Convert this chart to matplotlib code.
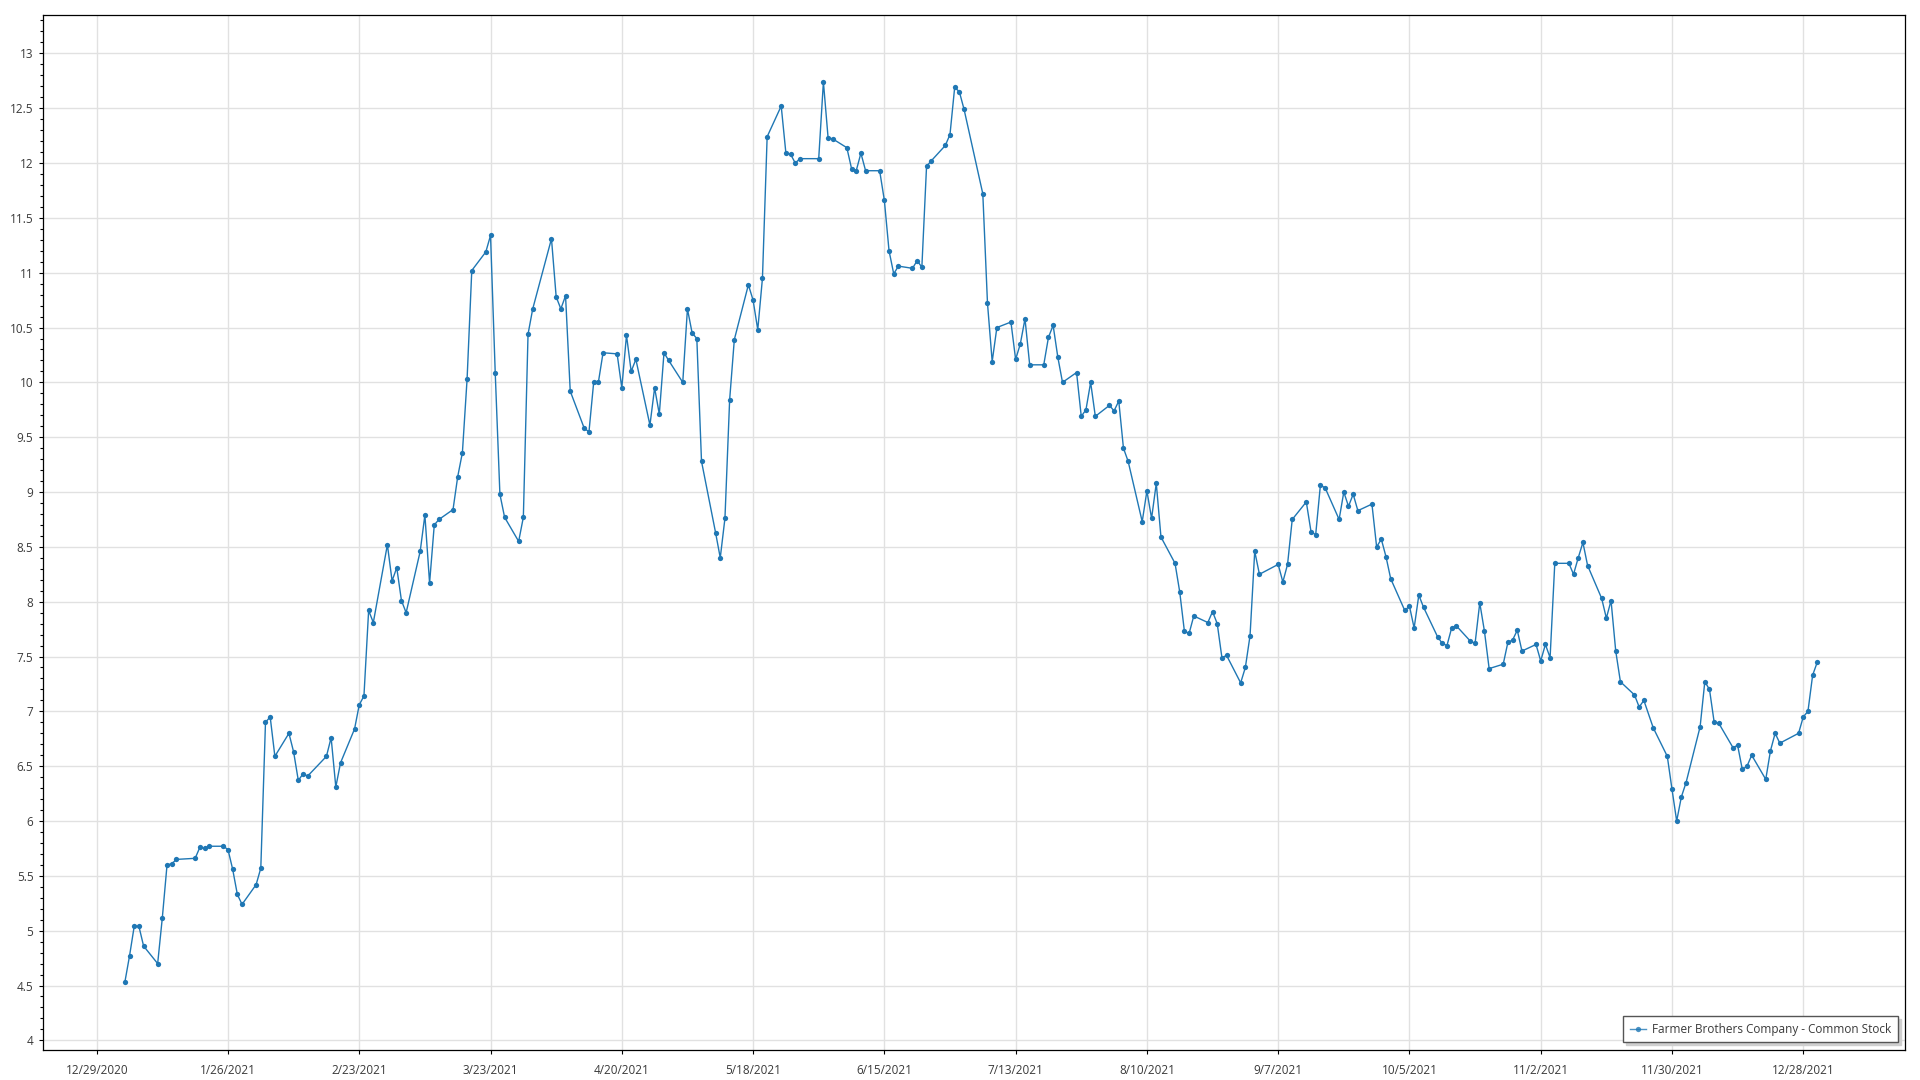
import matplotlib
matplotlib.use("Agg")
import matplotlib.pyplot as plt
import pandas as pd
from matplotlib.ticker import MultipleLocator, FixedLocator

plt.rcParams['font.family'] = ['Open Sans', 'DejaVu Sans']

# ---- data ----
series_name = "Farmer Brothers Company - Common Stock"
market_holidays = ['2021-01-01', '2021-01-18', '2021-02-15', '2021-04-02', '2021-05-31',
                   '2021-07-05', '2021-09-06', '2021-11-25', '2021-12-24']

jan = [4.53, 4.77, 5.04, 5.04, 4.86, 4.70, 5.12, 5.60, 5.61, 5.65, 5.66, 5.76, 5.75, 5.77,
       5.77, 5.74, 5.56, 5.33, 5.24]
feb = [5.42, 5.57, 6.90, 6.95, 6.59, 6.80, 6.63, 6.37, 6.43, 6.41, 6.59, 6.76, 6.31, 6.53,
       6.84, 7.06, 7.14, 7.92, 7.81]
mar = [8.52, 8.19, 8.31, 8.01, 7.90, 8.46, 8.79, 8.17, 8.70, 8.75, 8.84, 9.14, 9.36, 10.03,
       11.02, 11.19, 11.34, 10.09, 8.98, 8.77, 8.55, 8.77, 10.44]
apr = [10.67, 11.31, 10.78, 10.67, 10.79, 9.92, 9.58, 9.55, 10.00, 10.00, 10.27, 10.26, 9.95,
       10.43, 10.10, 10.21, 9.61, 9.95, 9.71, 10.27, 10.20]
may = [10.00, 10.67, 10.45, 10.40, 9.28, 8.63, 8.40, 8.76, 9.84, 10.39, 10.89, 10.75, 10.48,
       10.95, 12.24, 12.52, 12.09, 12.08, 12.00, 12.04]
jun = [12.04, 12.74, 12.23, 12.22, 12.14, 11.95, 11.93, 12.09, 11.93, 11.93, 11.66, 11.20,
       10.99, 11.06, 11.04, 11.11, 11.05, 11.97, 12.02, 12.16, 12.26, 12.69]
jul = [12.65, 12.49, 11.72, 10.72, 10.19, 10.50, 10.55, 10.21, 10.35, 10.58, 10.16, 10.16,
       10.41, 10.52, 10.23, 10.00, 10.09, 9.69, 9.75, 10.00, 9.69]
aug = [9.79, 9.74, 9.83, 9.40, 9.28, 8.73, 9.01, 8.76, 9.08, 8.59, 8.35, 8.09, 7.73, 7.71,
       7.87, 7.81, 7.91, 7.80, 7.49, 7.51, 7.26, 7.40]
sep = [7.69, 8.46, 8.25, 8.34, 8.18, 8.34, 8.75, 8.91, 8.64, 8.61, 9.06, 9.04, 8.75, 9.00,
       8.87, 8.98, 8.83, 8.89, 8.50, 8.57, 8.41]
oct_ = [8.21, 7.92, 7.96, 7.76, 8.06, 7.95, 7.68, 7.62, 7.60, 7.76, 7.78, 7.64, 7.62, 7.99,
        7.73, 7.39, 7.43, 7.63, 7.65, 7.74, 7.55]
nov = [7.61, 7.46, 7.61, 7.49, 8.35, 8.35, 8.25, 8.40, 8.54, 8.33, 8.03, 7.85, 8.01, 7.55,
       7.27, 7.15, 7.04, 7.10, 6.85, 6.59, 6.29]
dec = [6.00, 6.22, 6.35, 6.86, 7.27, 7.20, 6.90, 6.89, 6.67, 6.69, 6.47, 6.50, 6.60, 6.38,
       6.64, 6.80, 6.71, 6.80, 6.95, 7.00, 7.33, 7.45]

x_tick_labels = ["12/29/2020", "1/26/2021", "2/23/2021", "3/23/2021", "4/20/2021", "5/18/2021",
                 "6/15/2021", "7/13/2021", "8/10/2021", "9/7/2021", "10/5/2021", "11/2/2021",
                 "11/30/2021", "12/28/2021"]

prices = jan + feb + mar + apr + may + jun + jul + aug + sep + oct_ + nov + dec
dates = pd.bdate_range('2021-01-01', '2021-12-31', freq='C', holidays=market_holidays)
n = min(len(dates), len(prices))
dates = dates[:n]
prices = prices[:n]

# ---- figure ----
fig = plt.figure(figsize=(19.2, 10.8), dpi=100)
ax = fig.add_axes([42.7 / 1920, 1 - 1050 / 1080, (1905 - 42.7) / 1920, (1050 - 15) / 1080])

line_color = '#1f77b4'
ax.plot(dates, prices, color=line_color, lw=1.0, marker='o', ms=3.8,
        markeredgewidth=0, label=series_name, zorder=3)

tick_dates = pd.to_datetime(x_tick_labels, format="%m/%d/%Y")
ax.set_xticks(tick_dates)
ax.set_xticklabels(x_tick_labels)
ax.set_xlim(tick_dates[0] - pd.Timedelta(days=11.52), tick_dates[-1] + pd.Timedelta(days=21.7))

ax.set_ylim(3.912, 13.35)
ax.yaxis.set_major_locator(MultipleLocator(0.5))
ax.yaxis.set_minor_locator(MultipleLocator(0.1))
ax.yaxis.set_major_formatter(matplotlib.ticker.FuncFormatter(lambda v, p: f"{v:g}"))

ax.grid(True, which='major', color='#e1e1e1', lw=1.0, zorder=0)
ax.set_axisbelow(True)

text_color = '#3a3a3a'
ax.tick_params(axis='x', which='major', length=3.2, width=0.8, color='black',
               labelsize=8.5, labelcolor=text_color, pad=7)
ax.tick_params(axis='y', which='major', length=3.2, width=0.8, color='black',
               labelsize=8.5, labelcolor=text_color, pad=3.5)
ax.tick_params(axis='y', which='minor', length=2.0, width=0.8, color='black')
ax.tick_params(axis='x', which='minor', length=0)

for sp in ax.spines.values():
    sp.set_color('black')
    sp.set_linewidth(0.9)

leg = ax.legend(loc='lower right', bbox_to_anchor=(0.9961, 0.0074), borderaxespad=0,
                fancybox=False, frameon=True, fontsize=8.5, handlelength=1.4,
                handletextpad=0.5, borderpad=0.55,
                shadow={'color': '#cfcfcf', 'alpha': 1.0})
leg.get_frame().set_edgecolor('#555555')
leg.get_frame().set_linewidth(1.0)
for t in leg.get_texts():
    t.set_color(text_color)
for h in leg.legend_handles:
    h.set_alpha(0.8)

fig.savefig("out.png", dpi=100)
